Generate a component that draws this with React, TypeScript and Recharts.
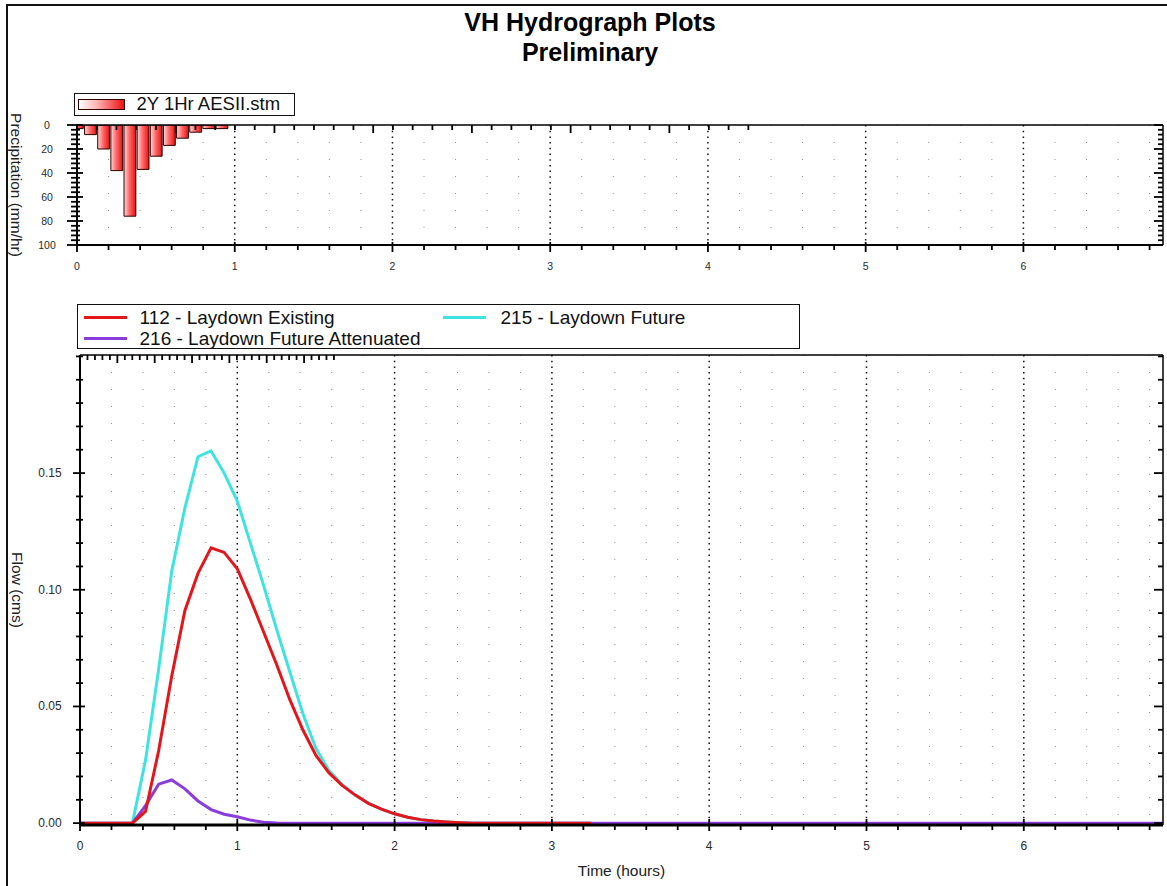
import React from 'react';
import { ComposedChart, LineChart, Line, Bar, XAxis, YAxis, CartesianGrid, Legend } from 'recharts';

const FONT = '"Liberation Sans", Arial, Helvetica, sans-serif';

// ---------- Hyetograph (rainfall intensity, mm/hr) ----------
const precipTimes = [0, 0.0833, 0.1667, 0.25, 0.3333, 0.4167, 0.5, 0.5833, 0.6667, 0.75, 0.8333, 0.9167];
const precipValues = [3, 8, 20, 38, 76, 37, 26, 17, 11, 6, 3, 3];
const precipLegendLabel = '2Y 1Hr AESII.stm';

// ---------- Hydrographs (flow, cms) ----------
const flowTimes = [0, 0.3333, 0.4167, 0.5, 0.5833, 0.6667, 0.75, 0.8333, 0.9167, 1.0, 1.0833, 1.1667, 1.25, 1.3333, 1.4167, 1.5, 1.5833, 1.6667, 1.75, 1.8333, 1.9167, 2.0, 2.0833, 2.1667, 2.25, 2.3333, 2.4167, 2.5, 3.25, 6.885];
const existingFlow = [0, 0, 0.005, 0.031, 0.063, 0.091, 0.107, 0.118, 0.116, 0.109, 0.096, 0.082, 0.068, 0.053, 0.040, 0.029, 0.0215, 0.0162, 0.012, 0.0085, 0.006, 0.004, 0.0025, 0.0015, 0.0009, 0.0005, 0.0002, 0, 0, null];
const futureFlow = [0, 0, 0.027, 0.066, 0.108, 0.135, 0.157, 0.1595, 0.150, 0.138, 0.120, 0.102, 0.083, 0.065, 0.047, 0.032, 0.0225, 0.0165, 0.012, 0.0085, 0.006, 0.004, 0.0025, 0.0015, 0.0009, 0.0005, 0.0002, 0, 0, null];
const attenuatedFlow = [0, 0, 0.0075, 0.0167, 0.0185, 0.0147, 0.0095, 0.0058, 0.0038, 0.0027, 0.0013, 0.0004, 0.0001, 0, 0, 0, 0, 0, 0, 0, 0, 0, 0, 0, 0, 0, 0, 0, 0, 0];

const seriesExisting = '112 - Laydown Existing';
const seriesFuture = '215 - Laydown Future';
const seriesAttenuated = '216 - Laydown Future Attenuated';

// ---------- Axes ----------
const X_MAX = 6.885;
const hourLabels = [0, 1, 2, 3, 4, 5, 6];
const timeTicks = Array.from({ length: 35 }, (_, i) => Math.round(i * 2) / 10);
const minorTimeGrid = timeTicks.filter((t) => Math.abs(t - Math.round(t)) > 1e-6);
const majorTimeGrid = hourLabels.slice(1);
const precipLabels = [0, 20, 40, 60, 80, 100];
const precipTicks = Array.from({ length: 26 }, (_, i) => i * 4);
const flowLabels = [0, 0.05, 0.1, 0.15];
const flowTicks = Array.from({ length: 21 }, (_, i) => i / 100);

const COLOR_EXISTING = '#e3161b';
const COLOR_FUTURE = '#3fe3e0';
const COLOR_ATTEN = '#8a3ddc';

const TOP_PLOT_W = 1163 - 77;
const PRECIP_BAR_PX = TOP_PLOT_W / X_MAX / 12;

type Side = 'bottom' | 'top' | 'left' | 'right';
interface TickStyle {
  side: Side;
  labels: number[];
  majorIn: number;
  majorOut: number;
  minorIn: number;
  minorOut: number;
  labelGap: number;
  fontSize: number;
  digits: number;
  showLabels: boolean;
}

function makeTick(s: TickStyle) {
  return (props: any) => {
    const { x, y, payload } = props;
    const v = Number(payload.value);
    const isMajor = s.labels.some((l) => Math.abs(l - v) < 1e-9);
    const inn = isMajor ? s.majorIn : s.minorIn;
    const out = isMajor ? s.majorOut : s.minorOut;
    let x1 = x, x2 = x, y1 = y, y2 = y, tx = x, ty = y;
    if (s.side === 'bottom') { y1 = y - inn; y2 = y + out; ty = y + s.labelGap; }
    if (s.side === 'top') { y1 = y + inn; y2 = y - out; }
    if (s.side === 'left') { x1 = x + inn; x2 = x - out; tx = x - s.labelGap; }
    if (s.side === 'right') { x1 = x - inn; x2 = x + out; }
    return (
      <g>
        <line x1={x1} y1={y1} x2={x2} y2={y2} stroke="#000" strokeWidth={1.8} />
        {s.showLabels && isMajor ? (
          <text x={tx} y={ty} textAnchor="middle" dominantBaseline="central" fontSize={s.fontSize} fill="#2a2a2a" fontFamily={FONT}>
            {v.toFixed(s.digits)}
          </text>
        ) : null}
      </g>
    );
  };
}

const verticalTitle = (text: string, dx: number, fontSize: number) => (props: any) => {
  const vb = props.viewBox || { x: 0, y: 0, width: 0, height: 0 };
  const cx = vb.x + dx;
  const cy = vb.y + vb.height / 2;
  return (
    <text x={cx} y={cy} transform={`rotate(90 ${cx} ${cy})`} textAnchor="middle" dominantBaseline="central" fontSize={fontSize} fill="#222" fontFamily={FONT}>
      {text}
    </text>
  );
};

const horizontalTitle = (text: string, dy: number, fontSize: number) => (props: any) => {
  const vb = props.viewBox || { x: 0, y: 0, width: 0, height: 0 };
  return (
    <text x={vb.x + vb.width / 2} y={vb.y + dy} textAnchor="middle" dominantBaseline="central" fontSize={fontSize} fill="#222" fontFamily={FONT}>
      {text}
    </text>
  );
};

const PrecipLegend = () => (
  <div style={{ width: 221, height: 23, boxSizing: 'border-box', border: '1.5px solid #111', background: '#fff', position: 'relative', fontFamily: FONT }}>
    <div style={{ position: 'absolute', left: 2.5, top: 4.5, width: 47, height: 11, boxSizing: 'border-box', border: '1px solid #300', background: 'linear-gradient(to right, #ffffff, #ffb4b4 40%, #ee1010)' }} />
    <span style={{ position: 'absolute', left: 61.5, top: 0, lineHeight: '20px', fontSize: 18.5, color: '#111', whiteSpace: 'nowrap' }}>{precipLegendLabel}</span>
  </div>
);

const flowLegendItems = [
  { name: seriesExisting, color: COLOR_EXISTING, left: 5.5, textLeft: 61.5, top: 12.5 },
  { name: seriesFuture, color: COLOR_FUTURE, left: 364.5, textLeft: 422.5, top: 12.5 },
  { name: seriesAttenuated, color: COLOR_ATTEN, left: 5.5, textLeft: 61.5, top: 33.5 },
];

const FlowLegend = () => (
  <div style={{ width: 723, height: 45, boxSizing: 'border-box', border: '1.5px solid #111', background: '#fff', position: 'relative', fontFamily: FONT }}>
    {flowLegendItems.map((it) => (
      <React.Fragment key={it.name}>
        <div style={{ position: 'absolute', left: it.left, top: it.top - 1.5, width: 43, height: 3, background: it.color }} />
        <span style={{ position: 'absolute', left: it.textLeft, top: it.top - 11, lineHeight: '22px', fontSize: 19, color: '#111', whiteSpace: 'nowrap' }}>{it.name}</span>
      </React.Fragment>
    ))}
  </div>
);

export default function App() {
  const precipRows = precipTimes.map((t, i) => ({ t, precip: precipValues[i] }));
  const flowRows = flowTimes.map((t, i) => ({
    t,
    existing: existingFlow[i],
    future: futureFlow[i],
    attenuated: attenuatedFlow[i],
  }));

  return (
    <div style={{ position: 'absolute', left: 0, top: 0, width: 1167, height: 886, overflow: 'hidden', background: '#fff', fontFamily: FONT }}>
      <div style={{ position: 'absolute', left: 6, top: 4, width: 1200, height: 1000, border: '2px solid #111', boxSizing: 'border-box' }} />
      <div style={{ position: 'absolute', left: 0, top: 7, width: 1180, textAlign: 'center', fontWeight: 'bold', fontSize: 25, lineHeight: '30px', color: '#000' }}>
        <div>VH Hydrograph Plots</div>
        <div>Preliminary</div>
      </div>

      {/* Hyetograph */}
      <div style={{ position: 'absolute', left: 0, top: 0 }}>
        <ComposedChart width={1167} height={290} data={precipRows} margin={{ top: 124, right: 3, bottom: 0, left: 0 }}>
          <defs>
            <linearGradient id="precipFill" x1="0" y1="0" x2="1" y2="0">
              <stop offset="0%" stopColor="#ffd6d6" />
              <stop offset="45%" stopColor="#ff6a6a" />
              <stop offset="100%" stopColor="#e81010" />
            </linearGradient>
          </defs>
          <CartesianGrid horizontal={false} verticalValues={minorTimeGrid} stroke="#8f8f8f" strokeDasharray="1 16" strokeWidth={1} />
          <CartesianGrid horizontal={false} verticalValues={majorTimeGrid} stroke="#111" strokeDasharray="1.5 4.2" strokeWidth={1.5} />
          <XAxis dataKey="t" type="number" domain={[0, X_MAX]} allowDataOverflow ticks={timeTicks} interval={0} height={45}
            tickSize={0} tickMargin={0} tickLine={false} axisLine={{ stroke: '#000', strokeWidth: 2 }}
            tick={makeTick({ side: 'bottom', labels: hourLabels, majorIn: 3, majorOut: 7, minorIn: 0, minorOut: 5, labelGap: 21, fontSize: 10.5, digits: 0, showLabels: true })} />
          <XAxis xAxisId="top" orientation="top" type="number" domain={[0, X_MAX]} allowDataOverflow ticks={timeTicks} interval={0} height={1}
            tickSize={0} tickMargin={0} tickLine={false} axisLine={{ stroke: '#000', strokeWidth: 1.5 }}
            tick={makeTick({ side: 'top', labels: hourLabels, majorIn: 8, majorOut: 0, minorIn: 5, minorOut: 0, labelGap: 0, fontSize: 10, digits: 0, showLabels: false })} />
          <YAxis type="number" domain={[0, 100]} reversed allowDataOverflow ticks={precipTicks} interval={0} width={77}
            tickSize={0} tickMargin={0} tickLine={false} axisLine={{ stroke: '#000', strokeWidth: 2 }}
            tick={makeTick({ side: 'left', labels: precipLabels, majorIn: 6, majorOut: 10, minorIn: 3, minorOut: 6, labelGap: 30, fontSize: 10.5, digits: 0, showLabels: true })}
            label={verticalTitle('Precipitation (mm/hr)', 16, 15.5)} />
          <YAxis yAxisId="right" orientation="right" type="number" domain={[0, 100]} reversed allowDataOverflow ticks={precipTicks} interval={0} width={1}
            tickSize={0} tickMargin={0} tickLine={false} axisLine={{ stroke: '#000', strokeWidth: 1.5 }}
            tick={makeTick({ side: 'right', labels: precipLabels, majorIn: 9, majorOut: 0, minorIn: 5, minorOut: 0, labelGap: 0, fontSize: 10, digits: 0, showLabels: false })} />
          <Bar dataKey="precip" name={precipLegendLabel} barSize={PRECIP_BAR_PX} fill="url(#precipFill)" stroke="#2a0000" strokeWidth={1} isAnimationActive={false} />
          <Legend content={<PrecipLegend />} layout="horizontal" verticalAlign="middle" align="center"
            wrapperStyle={{ position: 'absolute', left: 74, top: 93, width: 221, height: 23, margin: 0, padding: 0 }} />
        </ComposedChart>
      </div>

      {/* Hydrographs */}
      <div style={{ position: 'absolute', left: 0, top: 290 }}>
        <LineChart width={1167} height={596} data={flowRows} margin={{ top: 64, right: 3, bottom: 0, left: 0 }}>
          <CartesianGrid horizontal={false} verticalValues={minorTimeGrid} stroke="#8f8f8f" strokeDasharray="1 16" strokeWidth={1} />
          <CartesianGrid horizontal={false} verticalValues={majorTimeGrid} stroke="#111" strokeDasharray="1.5 4.2" strokeWidth={1.5} />
          <XAxis dataKey="t" type="number" domain={[0, X_MAX]} allowDataOverflow ticks={timeTicks} interval={0} height={61}
            tickSize={0} tickMargin={0} tickLine={false} axisLine={{ stroke: '#000', strokeWidth: 3 }}
            tick={makeTick({ side: 'bottom', labels: hourLabels, majorIn: 6, majorOut: 6, minorIn: 1, minorOut: 5, labelGap: 21, fontSize: 12, digits: 0, showLabels: true })}
            label={horizontalTitle('Time (hours)', 45, 15.5)} />
          <XAxis xAxisId="top" orientation="top" type="number" domain={[0, X_MAX]} allowDataOverflow ticks={timeTicks} interval={0} height={1}
            tickSize={0} tickMargin={0} tickLine={false} axisLine={{ stroke: '#000', strokeWidth: 1.5 }}
            tick={makeTick({ side: 'top', labels: hourLabels, majorIn: 8, majorOut: 0, minorIn: 5, minorOut: 0, labelGap: 0, fontSize: 10, digits: 0, showLabels: false })} />
          <YAxis type="number" domain={[-0.0008, 0.2006]} allowDataOverflow ticks={flowTicks} interval={0} width={80}
            tickSize={0} tickMargin={0} tickLine={false} axisLine={{ stroke: '#000', strokeWidth: 2 }}
            tick={makeTick({ side: 'left', labels: flowLabels, majorIn: 5, majorOut: 7, minorIn: 3, minorOut: 4, labelGap: 30, fontSize: 12, digits: 2, showLabels: true })}
            label={verticalTitle('Flow (cms)', 17, 15.5)} />
          <YAxis yAxisId="right" orientation="right" type="number" domain={[-0.0008, 0.2006]} allowDataOverflow ticks={flowTicks} interval={0} width={1}
            tickSize={0} tickMargin={0} tickLine={false} axisLine={{ stroke: '#000', strokeWidth: 1.5 }}
            tick={makeTick({ side: 'right', labels: flowLabels, majorIn: 9, majorOut: 0, minorIn: 5, minorOut: 0, labelGap: 0, fontSize: 10, digits: 2, showLabels: false })} />
          <Line type="linear" dataKey="future" name={seriesFuture} stroke={COLOR_FUTURE} strokeWidth={3} dot={false} activeDot={false} isAnimationActive={false} />
          <Line type="linear" dataKey="attenuated" name={seriesAttenuated} stroke={COLOR_ATTEN} strokeWidth={3} dot={false} activeDot={false} isAnimationActive={false} />
          <Line type="linear" dataKey="existing" name={seriesExisting} stroke={COLOR_EXISTING} strokeWidth={3} dot={false} activeDot={false} isAnimationActive={false} />
          <Legend content={<FlowLegend />} layout="horizontal" verticalAlign="middle" align="center"
            wrapperStyle={{ position: 'absolute', left: 77, top: 14, width: 723, height: 45, margin: 0, padding: 0 }} />
        </LineChart>
      </div>
    </div>
  );
}
